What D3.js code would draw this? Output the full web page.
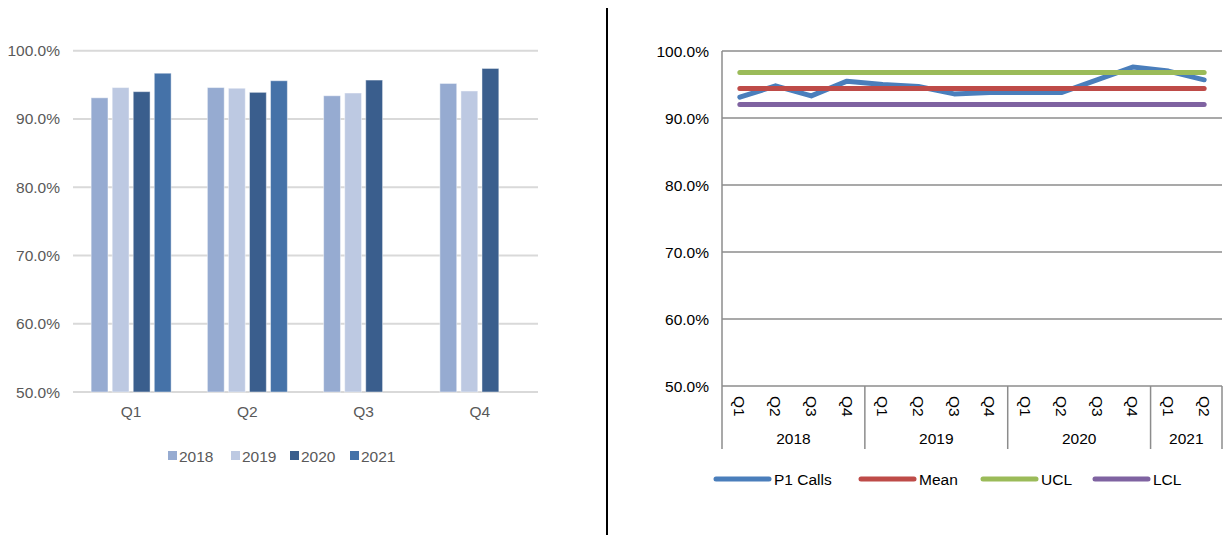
<!DOCTYPE html>
<html>
<head>
<meta charset="utf-8">
<script src="https://cdn.jsdelivr.net/npm/d3@7"></script>
<style>
  html, body { margin: 0; padding: 0; background: #fff; }
  svg { display: block; font-family: "Liberation Sans", Arial, sans-serif; }
  .lbl-left { fill: #595959; font-size: 15.5px; }
  .lbl-right { fill: #000; font-size: 15.5px; }
</style>
</head>
<body>
<svg id="chart" width="1225" height="535"></svg>
<script>
// left chart: quarterly bars by year
const quarters = ["Q1", "Q2", "Q3", "Q4"];
const years = ["2018", "2019", "2020", "2021"];
const v2018 = [93.1, 94.6, 93.4, 95.2];
const v2019 = [94.6, 94.5, 93.8, 94.1];
const v2020 = [94.0, 93.9, 95.7, 97.4];
const v2021 = [96.7, 95.6, null, null];
const yearColors = ["#96abd1", "#bdc9e2", "#3a5e8d", "#4572a8"];
const pctTicks = [50, 60, 70, 80, 90, 100];

// right chart: control chart
const periodQuarters = ["Q1", "Q2", "Q3", "Q4", "Q1", "Q2", "Q3", "Q4", "Q1", "Q2", "Q3", "Q4", "Q1", "Q2"];
const periodYears = ["2018", "2018", "2018", "2018", "2019", "2019", "2019", "2019", "2020", "2020", "2020", "2020", "2021", "2021"];
const p1Calls = [93.1, 94.8, 93.3, 95.5, 95.0, 94.7, 93.6, 93.8, 93.8, 93.8, 95.7, 97.6, 97.0, 95.7];
const meanValue = 94.4;
const uclValue = 96.8;
const lclValue = 92.0;
const seriesNames = ["P1 Calls", "Mean", "UCL", "LCL"];
const seriesColors = ["#4a7ebb", "#be4b48", "#9bbb59", "#7f63a1"];

const svg = d3.select("#chart");

drawBars();
drawControl();

// divider between the two charts
svg.append("line").attr("x1", 607).attr("x2", 607).attr("y1", 8).attr("y2", 535)
  .attr("stroke", "#000").attr("stroke-width", 2);

function drawBars() {
  const m = { left: 73, right: 538, top: 50.7, bottom: 392 };
  const g = svg.append("g");
  const y = d3.scaleLinear().domain([50, 100]).range([m.bottom, m.top]);
  const x0 = d3.scaleBand().domain(quarters).range([m.left, m.right]);
  const groupW = 80;
  const x1 = d3.scaleBand().domain(years).range([0, groupW]).paddingInner(0.2);

  g.append("g").selectAll("line").data(pctTicks).join("line")
    .attr("x1", m.left).attr("x2", m.right)
    .attr("y1", (d) => y(d)).attr("y2", (d) => y(d))
    .attr("stroke", "#d9d9d9").attr("stroke-width", 2);

  g.append("g").selectAll("text").data(pctTicks).join("text")
    .attr("class", "lbl-left").attr("x", 60).attr("y", (d) => y(d))
    .attr("text-anchor", "end").attr("dominant-baseline", "central")
    .text((d) => d3.format(".1f")(d) + "%");

  const table = [v2018, v2019, v2020, v2021];
  const bars = [];
  quarters.forEach((q, qi) => {
    years.forEach((yr, yi) => {
      const v = table[yi][qi];
      if (v != null) bars.push({ q, yr, v, color: yearColors[yi] });
    });
  });
  const off = (x0.bandwidth() - groupW) / 2;
  g.append("g").selectAll("rect").data(bars).join("rect")
    .attr("x", (d) => x0(d.q) + off + x1(d.yr))
    .attr("width", x1.bandwidth())
    .attr("y", (d) => y(d.v))
    .attr("height", (d) => y(50) - y(d.v))
    .attr("fill", (d) => d.color)
    .attr("stroke", "rgba(255,255,255,0.45)").attr("stroke-width", 1);

  g.append("g").selectAll("text").data(quarters).join("text")
    .attr("class", "lbl-left")
    .attr("x", (d) => x0(d) + x0.bandwidth() / 2).attr("y", 411)
    .attr("text-anchor", "middle").attr("dominant-baseline", "central")
    .text((d) => d);

  const legX = [168, 231, 290, 350];
  const leg = g.append("g").selectAll("g").data(years).join("g")
    .attr("transform", (d, i) => `translate(${legX[i]},456)`);
  leg.append("rect").attr("x", 0).attr("y", -5).attr("width", 9).attr("height", 9)
    .attr("fill", (d, i) => yearColors[i]);
  leg.append("text").attr("class", "lbl-left").attr("x", 11).attr("y", 0)
    .attr("dominant-baseline", "central").text((d) => d);
}

function drawControl() {
  const m = { left: 722, right: 1222, top: 51, bottom: 386 };
  const g = svg.append("g");
  const y = d3.scaleLinear().domain([50, 100]).range([m.bottom, m.top]);
  const idx = d3.range(periodQuarters.length);
  const x = d3.scaleBand().domain(idx).range([m.left, m.right]);
  const cx = (i) => x(i) + x.bandwidth() / 2;

  g.append("g").selectAll("line").data(pctTicks).join("line")
    .attr("x1", m.left).attr("x2", m.right)
    .attr("y1", (d) => y(d)).attr("y2", (d) => y(d))
    .attr("stroke", "#8c8c8c").attr("stroke-width", 1.5);

  g.append("g").selectAll("text").data(pctTicks).join("text")
    .attr("class", "lbl-right").attr("x", 709).attr("y", (d) => y(d))
    .attr("text-anchor", "end").attr("dominant-baseline", "central")
    .text((d) => d3.format(".1f")(d) + "%");

  // year dividers on the category axis, plus left axis line and right end
  const yearStarts = idx.filter((i) => i === 0 || periodYears[i] !== periodYears[i - 1]);
  const divX = yearStarts.map((i) => x(i)).concat([m.right]);
  g.append("line").attr("x1", m.left).attr("x2", m.left).attr("y1", m.top).attr("y2", m.bottom)
    .attr("stroke", "#8c8c8c").attr("stroke-width", 1.5);
  g.append("g").selectAll("line").data(divX).join("line")
    .attr("x1", (d) => d).attr("x2", (d) => d).attr("y1", m.bottom).attr("y2", 449)
    .attr("stroke", "#8c8c8c").attr("stroke-width", 1.5);

  g.append("g").selectAll("text").data(idx).join("text")
    .attr("class", "lbl-right")
    .attr("transform", (i) => `translate(${cx(i)},396) rotate(90)`)
    .attr("dominant-baseline", "central")
    .text((i) => periodQuarters[i]);

  const yearGroups = d3.groups(idx, (i) => periodYears[i]);
  g.append("g").selectAll("text").data(yearGroups).join("text")
    .attr("class", "lbl-right")
    .attr("x", (d) => (x(d[1][0]) + x(d[1][d[1].length - 1]) + x.bandwidth()) / 2)
    .attr("y", 438).attr("text-anchor", "middle").attr("dominant-baseline", "central")
    .text((d) => d[0]);

  const series = [
    p1Calls,
    idx.map(() => meanValue),
    idx.map(() => uclValue),
    idx.map(() => lclValue),
  ];
  const line = d3.line().x((d, i) => cx(i)).y((d) => y(d));
  series.forEach((s, si) => {
    g.append("path").datum(s).attr("d", line)
      .attr("fill", "none").attr("stroke", seriesColors[si]).attr("stroke-width", 5)
      .attr("stroke-linecap", "round").attr("stroke-linejoin", "round");
  });

  const legX = [716, 861, 983, 1095];
  const leg = g.append("g").selectAll("g").data(seriesNames).join("g")
    .attr("transform", (d, i) => `translate(${legX[i]},479)`);
  leg.append("line").attr("x1", 0).attr("x2", 53).attr("y1", 0).attr("y2", 0)
    .attr("stroke", (d, i) => seriesColors[i]).attr("stroke-width", 5).attr("stroke-linecap", "round");
  leg.append("text").attr("class", "lbl-right").attr("x", 58).attr("y", 0)
    .attr("dominant-baseline", "central").text((d) => d);
}
</script>
</body>
</html>
